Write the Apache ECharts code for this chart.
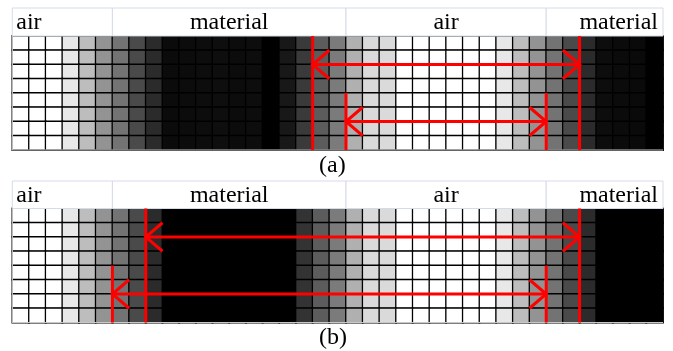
<!DOCTYPE html>
<html><head><meta charset="utf-8">
<script src="https://cdn.jsdelivr.net/npm/echarts@6/dist/echarts.min.js"></script>
<style>html,body{margin:0;padding:0;background:#fff}#c{width:673px;height:351px}</style>
</head><body><div id="c"></div>
<script>
// ---- data ----
const columns = ['1','2','3','4','5','6','7','8','9','10','11','12','13','14','15','16','17','18','19','20',
  '21','22','23','24','25','26','27','28','29','30','31','32','33','34','35','36','37','38','39'];
const rows = ['1','2','3','4','5','6','7','8'];
// gray level (0 = black, 255 = white) of every column, panel (a)
const grayA = [255,255,255,232,189,147,115,74,43,11,12,13,14,12,13,0,24,58,92,123,176,218,218,255,255,255,255,255,255,232,189,147,115,74,43,13,11,10,0];
// panel (b)
const grayB = [255,255,255,232,189,147,115,74,43,0,0,0,0,0,0,0,0,51,92,123,176,218,218,255,255,255,255,255,255,232,189,147,115,74,43,0,0,0,0];
const headerLabels = ['air','material','air','material'];
const headerSpans = [[0,6],[6,20],[20,32],[32,39]];
// [fromColumnEdge, toColumnEdge, arrowRowEdge, verticalTopRowEdge]
const arrowsA = [[18,34,2,0],[20,32,6,4]];
const arrowsB = [[8,34,2,0],[6,32,6,4]];
const captions = ['(a)','(b)'];

// ---- chart ----
const chart = echarts.init(document.getElementById('c'), null, {renderer:'canvas'});
const SERIF = '"Liberation Serif","Times New Roman",serif';

function cells(gray){
  const d=[];
  rows.forEach((r,ri)=>columns.forEach((c,ci)=>d.push([ci,ri,gray[ci]])));
  return d;
}
function renderHeader(params, api){
  const i = api.value(2);
  const a = api.coord([api.value(0),1]), b = api.coord([api.value(1),0]);
  const n = headerLabels.length;
  let align='center', tx=(a[0]+b[0])/2;
  if(i===0){align='left'; tx=a[0]+4;}
  if(i===n-1){align='right'; tx=b[0]-5;}
  return {type:'group', children:[
    {type:'rect', shape:{x:a[0],y:a[1],width:b[0]-a[0],height:b[1]-a[1]},
     style:{fill:'#fff',stroke:'#d5dbe8',lineWidth:1}},
    {type:'text', style:{text:headerLabels[i], x:tx, y:(a[1]+b[1])/2+0.5, align:align, verticalAlign:'middle',
      font:'24px '+SERIF, fill:'#000'}}
  ]};
}
function renderFrame(params, api){
  // light outer frame on the left and bottom edges of the cell table
  const tl=api.coord([0,0]), bl=api.coord([columns.length*0+0,rows.length]), br=api.coord([columns.length,rows.length]);
  return {type:'polyline',shape:{points:[tl,bl,br]},style:{stroke:'#c8c8c8',lineWidth:1.2,fill:null}};
}
function renderArrow(params, api){
  const x1=api.value(0), x2=api.value(1), yr=api.value(2), yt=api.value(3);
  const p=(x,y)=>api.coord([x,y]);
  const st={stroke:'#ff0000', lineWidth:3, fill:null};
  const segs=[
    [p(x1,yt),p(x1,rows.length)],
    [p(x2,yt),p(x2,rows.length)],
    [p(x1,yr),p(x2,yr)],
    [p(x1+1,yr-1),p(x1,yr),p(x1+1,yr+1)],
    [p(x2-1,yr-1),p(x2,yr),p(x2-1,yr+1)]
  ];
  return {type:'group', children:segs.map(pts=>({type:'polyline',shape:{points:pts},style:st}))};
}
const L=12.3, R=10;
const hidden={show:false};
const option={
  animation:false,
  backgroundColor:'#fff',
  title:captions.map((t,i)=>({text:t, left:319, top:i===0?154:326, padding:0,
    textStyle:{fontFamily:SERIF, fontSize:24, fontWeight:'normal', color:'#000'}})),
  grid:[
    {left:L,right:R,top:8,height:28},
    {left:L,right:R,top:36,height:114},
    {left:L,right:R,top:181,height:27.5},
    {left:L,right:R,top:208.5,height:114}
  ],
  xAxis:[
    {type:'value',gridIndex:0,min:0,max:columns.length,...hidden},
    {type:'category',gridIndex:1,data:columns,...hidden},
    {type:'value',gridIndex:1,min:0,max:columns.length,...hidden},
    {type:'value',gridIndex:2,min:0,max:columns.length,...hidden},
    {type:'category',gridIndex:3,data:columns,...hidden},
    {type:'value',gridIndex:3,min:0,max:columns.length,...hidden}
  ],
  yAxis:[
    {type:'value',gridIndex:0,min:0,max:1,...hidden},
    {type:'category',gridIndex:1,data:rows,inverse:true,...hidden},
    {type:'value',gridIndex:1,min:0,max:rows.length,inverse:true,...hidden},
    {type:'value',gridIndex:2,min:0,max:1,...hidden},
    {type:'category',gridIndex:3,data:rows,inverse:true,...hidden},
    {type:'value',gridIndex:3,min:0,max:rows.length,inverse:true,...hidden}
  ],
  visualMap:{type:'continuous',show:false,min:0,max:255,dimension:2,seriesIndex:[0,1],
    inRange:{color:['#000000','#ffffff']}},
  series:[
    {type:'heatmap',xAxisIndex:1,yAxisIndex:1,data:cells(grayA),
      itemStyle:{borderColor:'#000',borderWidth:1.3},emphasis:{disabled:true}},
    {type:'heatmap',xAxisIndex:4,yAxisIndex:4,data:cells(grayB),
      itemStyle:{borderColor:'#000',borderWidth:1.3},emphasis:{disabled:true}},
    {type:'custom',xAxisIndex:0,yAxisIndex:0,renderItem:renderHeader,
      data:headerSpans.map((s,i)=>[s[0],s[1],i]),silent:true},
    {type:'custom',xAxisIndex:3,yAxisIndex:3,renderItem:renderHeader,
      data:headerSpans.map((s,i)=>[s[0],s[1],i]),silent:true},
    {type:'custom',xAxisIndex:2,yAxisIndex:2,renderItem:renderFrame,data:[[0]],clip:false,silent:true,z:4},
    {type:'custom',xAxisIndex:5,yAxisIndex:5,renderItem:renderFrame,data:[[0]],clip:false,silent:true,z:4},
    {type:'custom',xAxisIndex:2,yAxisIndex:2,renderItem:renderArrow,data:arrowsA,clip:false,silent:true,z:5},
    {type:'custom',xAxisIndex:5,yAxisIndex:5,renderItem:renderArrow,data:arrowsB,clip:false,silent:true,z:5}
  ]
};
chart.setOption(option);
</script></body></html>
